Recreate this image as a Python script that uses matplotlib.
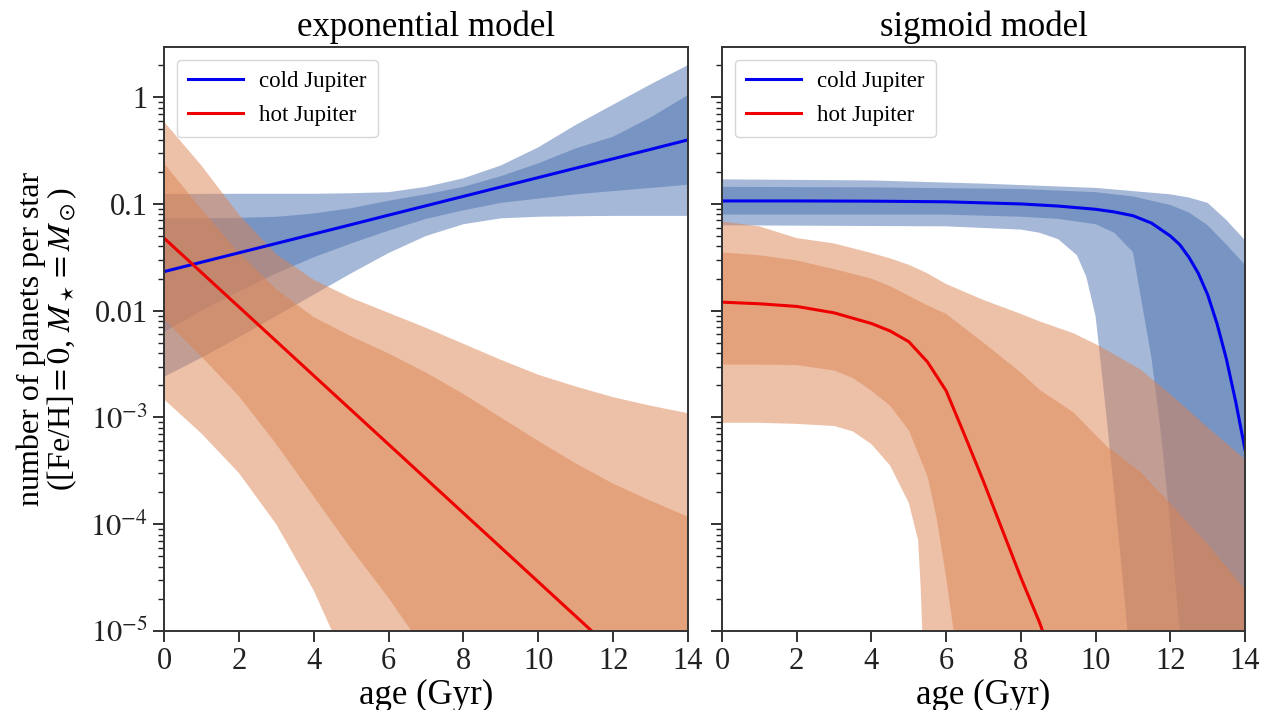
import numpy as np
import matplotlib
matplotlib.use("Agg")
import matplotlib.pyplot as plt
from matplotlib.ticker import LogLocator, NullFormatter, FixedLocator, FixedFormatter

# ---------------- data (log10 of number of planets per star) ----------------
# exponential model
t_exp = [0, 1, 2, 3, 4, 5, 6, 7, 8, 9, 10, 11, 12, 13, 14]
cold_exp_med = [-1.634, -1.546, -1.458, -1.370, -1.282, -1.194, -1.105, -1.017,
                -0.929, -0.841, -0.753, -0.665, -0.577, -0.489, -0.400]
cold_exp_hi95 = [-0.906, -0.906, -0.905, -0.905, -0.905, -0.90, -0.89, -0.84,
                 -0.76, -0.64, -0.47, -0.26, -0.07, 0.12, 0.30]
cold_exp_hi68 = [-1.134, -1.134, -1.13, -1.12, -1.09, -1.04, -0.97, -0.91,
                 -0.84, -0.74, -0.62, -0.48, -0.37, -0.19, 0.02]
cold_exp_lo68 = [-2.20, -2.00, -1.82, -1.65, -1.50, -1.37, -1.25, -1.14,
                 -1.06, -0.99, -0.95, -0.91, -0.88, -0.85, -0.82]
cold_exp_lo95 = [-2.62, -2.44, -2.25, -2.05, -1.85, -1.65, -1.46, -1.30,
                 -1.19, -1.135, -1.12, -1.115, -1.112, -1.112, -1.112]

hot_exp_med = [-1.32, -1.642, -1.964, -2.286, -2.608, -2.93, -3.252, -3.574,
               -3.896, -4.218, -4.54, -4.862, -5.184, -5.506, -5.828]
hot_exp_hi95 = [-0.23, -0.64, -1.10, -1.47, -1.71, -1.88, -2.02, -2.16,
                -2.31, -2.46, -2.60, -2.71, -2.81, -2.89, -2.96]
hot_exp_hi68 = [-0.62, -1.05, -1.46, -1.80, -2.06, -2.24, -2.40, -2.58,
                -2.78, -3.00, -3.22, -3.43, -3.62, -3.78, -3.93]
hot_exp_lo68 = [-2.08, -2.43, -2.80, -3.25, -3.74, -4.23, -4.69, -5.20,
                -5.70, -6.20, -6.70, -7.20, -7.70, -8.20, -8.70]
hot_exp_lo95 = [-2.83, -3.15, -3.52, -4.00, -4.62, -5.40, -6.20, -6.90,
                -7.60, -8.30, -9.00, -9.70, -10.4, -11.1, -11.8]

# sigmoid model
t_cs_med = [0, 2, 4, 6, 8, 9, 10, 10.5, 11, 11.5, 12, 12.25, 12.5, 12.75, 13,
            13.25, 13.5, 13.75, 14]
cold_sig_med = [-0.972, -0.972, -0.974, -0.98, -1.0, -1.02, -1.05, -1.075,
                -1.11, -1.18, -1.30, -1.38, -1.50, -1.65, -1.85, -2.12, -2.45,
                -2.85, -3.30]
t_cs_hi95 = [0, 4, 7, 10, 11, 12, 12.5, 13, 13.5, 14]
cold_sig_hi95 = [-0.77, -0.78, -0.81, -0.85, -0.88, -0.91, -0.94, -0.99, -1.15, -1.34]
t_cs_hi68 = [0, 4, 8, 10, 11, 12, 12.5, 13, 13.5, 14]
cold_sig_hi68 = [-0.84, -0.845, -0.86, -0.89, -0.93, -1.01, -1.08, -1.20, -1.38, -1.57]
t_cs_lo68 = [0, 6, 8, 9, 10, 10.5, 11, 11.25, 11.5, 11.75, 12, 12.25, 12.5, 14]
cold_sig_lo68 = [-1.10, -1.10, -1.12, -1.14, -1.19, -1.27, -1.45, -1.95, -2.45,
                 -3.15, -4.0, -5.0, -6.0, -12.0]
t_cs_lo95 = [0, 6, 8, 8.5, 9, 9.5, 9.75, 10, 10.25, 10.5, 10.75, 11, 14]
cold_sig_lo95 = [-1.20, -1.21, -1.24, -1.27, -1.33, -1.48, -1.68, -2.05, -2.85,
                 -3.70, -4.60, -5.60, -12.0]

t_hs_med = [0, 1, 2, 3, 4, 4.5, 5, 5.5, 6, 6.5, 7, 7.5, 8, 8.5, 9]
hot_sig_med = [-1.92, -1.935, -1.96, -2.02, -2.12, -2.19, -2.29, -2.48, -2.75,
               -3.17, -3.60, -4.05, -4.50, -4.92, -5.40]
t_hs_hi95 = [0, 1, 2, 3, 4, 4.5, 5, 5.5, 6, 7, 8, 8.5, 9.4, 10.1, 11.2, 12.06, 12.96, 14]
hot_sig_hi95 = [-1.165, -1.21, -1.32, -1.37, -1.46, -1.51, -1.57, -1.65, -1.75,
                -1.90, -2.03, -2.10, -2.21, -2.33, -2.55, -2.80, -3.08, -3.39]
t_hs_hi68 = [0, 1, 2, 3, 4, 4.5, 5, 5.5, 6, 7, 8, 8.5, 9.4, 10.3, 11.2, 12.06, 12.96, 14]
hot_sig_hi68 = [-1.455, -1.48, -1.53, -1.61, -1.70, -1.77, -1.86, -1.95, -2.03,
                -2.30, -2.58, -2.74, -2.95, -3.27, -3.51, -3.83, -4.17, -4.61]
t_hs_lo68 = [0, 1, 2, 3, 3.5, 4, 4.5, 5, 5.5, 5.75, 6, 6.2, 6.5, 14]
hot_sig_lo68 = [-2.505, -2.505, -2.51, -2.56, -2.63, -2.75, -2.89, -3.12, -3.55,
                -3.95, -4.50, -5.00, -5.80, -12.0]
t_hs_lo95 = [0, 1, 2, 3, 3.5, 4, 4.5, 5, 5.25, 5.32, 5.36, 5.5, 14]
hot_sig_lo95 = [-3.05, -3.05, -3.06, -3.08, -3.13, -3.25, -3.45, -3.80, -4.15,
                -4.60, -5.00, -6.00, -12.0]

ytick_vals = [1e-5, 1e-4, 1e-3, 1e-2, 1e-1, 1]
ytick_labels = [r"$10^{-5}$", r"$10^{-4}$", r"$10^{-3}$", "0.01", "0.1", "1"]
xtick_vals = [0, 2, 4, 6, 8, 10, 12, 14]
titles = ["exponential model", "sigmoid model"]
series_labels = ["cold Jupiter", "hot Jupiter"]

# ---------------- style ----------------
plt.rcParams["font.family"] = ["Liberation Serif", "DejaVu Serif"]
plt.rcParams["mathtext.fontset"] = "stix"

C_COLD = "#4C72B0"
C_HOT = "#DD8452"

fig = plt.figure(figsize=(12.62, 7.10), dpi=100)
ax1 = fig.add_axes([164 / 1262, 79 / 710, 524 / 1262, 584 / 710])
ax2 = fig.add_axes([722 / 1262, 79 / 710, 523 / 1262, 584 / 710], sharey=ax1)


def band(ax, tu, up, tl, lo, color):
    xs = np.concatenate([np.asarray(tu, float), np.asarray(tl, float)[::-1]])
    ys = np.concatenate([10 ** np.asarray(up, float), 10 ** np.asarray(lo, float)[::-1]])
    ax.fill(xs, ys, color=color, alpha=0.5, lw=0)


# exponential panel
band(ax1, t_exp, cold_exp_hi95, t_exp, cold_exp_lo95, C_COLD)
band(ax1, t_exp, cold_exp_hi68, t_exp, cold_exp_lo68, C_COLD)
band(ax1, t_exp, hot_exp_hi95, t_exp, hot_exp_lo95, C_HOT)
band(ax1, t_exp, hot_exp_hi68, t_exp, hot_exp_lo68, C_HOT)
ax1.plot(t_exp, 10 ** np.array(cold_exp_med), color="#0000ee", lw=2.2, label=series_labels[0])
ax1.plot(t_exp, 10 ** np.array(hot_exp_med), color="#ee0000", lw=2.2, label=series_labels[1])

# sigmoid panel
band(ax2, t_cs_hi95, cold_sig_hi95, t_cs_lo95, cold_sig_lo95, C_COLD)
band(ax2, t_cs_hi68, cold_sig_hi68, t_cs_lo68, cold_sig_lo68, C_COLD)
band(ax2, t_hs_hi95, hot_sig_hi95, t_hs_lo95, hot_sig_lo95, C_HOT)
band(ax2, t_hs_hi68, hot_sig_hi68, t_hs_lo68, hot_sig_lo68, C_HOT)
ax2.plot(t_cs_med, 10 ** np.array(cold_sig_med), color="#0000ee", lw=2.2, label=series_labels[0])
ax2.plot(t_hs_med, 10 ** np.array(hot_sig_med), color="#ee0000", lw=2.2, label=series_labels[1])

for ax, title in zip([ax1, ax2], titles):
    ax.set_yscale("log")
    ax.set_ylim(1e-5, 2.95)
    ax.set_xlim(0, 14)
    ax.set_xticks(xtick_vals)
    ax.yaxis.set_major_locator(FixedLocator(ytick_vals))
    ax.yaxis.set_minor_locator(LogLocator(base=10, subs=np.arange(2, 10) * 1.0, numticks=20))
    ax.yaxis.set_minor_formatter(NullFormatter())
    ax.tick_params(axis="both", which="major", direction="out", length=8, width=1.3,
                   labelsize=22, colors="#222222")
    ax.tick_params(axis="y", which="minor", direction="out", length=4, width=1.0, colors="#222222")
    for s in ax.spines.values():
        s.set_linewidth(1.4)
        s.set_color("#333333")
    ax.set_title(title, fontsize=25, pad=8)
    ax.set_xlabel("age (Gyr)", fontsize=25, labelpad=2)
    leg = ax.legend(loc="upper left", fontsize=16.5, handlelength=2.4, handletextpad=0.7,
                    labelspacing=0.55, borderpad=0.5, borderaxespad=0.55, fancybox=True,
                    framealpha=0.8, edgecolor="#cccccc")
    for line in leg.get_lines():
        line.set_linewidth(2.2)

ax1.yaxis.set_major_formatter(FixedFormatter(ytick_labels))
plt.setp(ax2.get_yticklabels(), visible=False)
ax1.set_ylabel("number of planets per star\n" + r"([Fe/H]$=0$, $M_\star=M_\odot$)",
               fontsize=23, labelpad=8, linespacing=1.0)

fig.savefig("out.png", dpi=100)
